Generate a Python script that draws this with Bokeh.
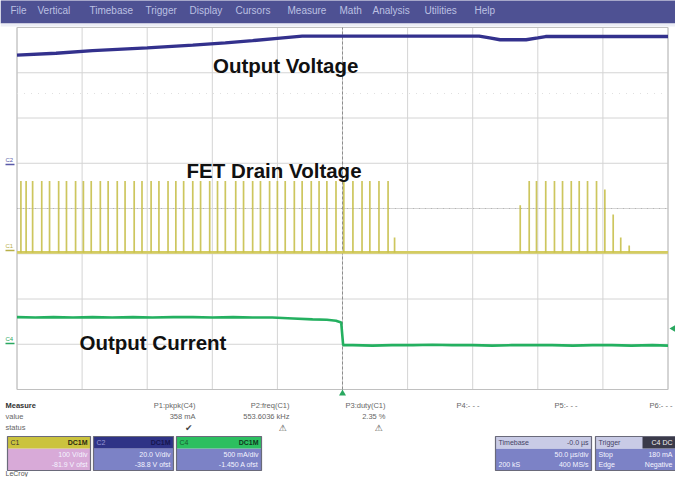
from math import pi
from bokeh.plotting import figure
from bokeh.models import Range1d
from bokeh.core.properties import value
from bokeh.embed import file_html
from bokeh.resources import INLINE

# ---------------- data ----------------
us_per_div = 50
grid_t_us = [-250, -200, -150, -100, -50, 0, 50, 100, 150, 200, 250]
grid_v_div = [-4, -3, -2, -1, 0, 1, 2, 3, 4]

# Output voltage (C2), vertical divisions
vout_t_us = [-250, -220, -192, -150, -115, -90, -69, -50, -31, 0, 50, 105, 113, 121, 141, 150, 156, 200, 250]
vout_div = [3.39, 3.43, 3.49, 3.55, 3.61, 3.66, 3.71, 3.76, 3.81, 3.81, 3.81, 3.81, 3.77, 3.73, 3.73, 3.77, 3.80, 3.80, 3.80]

# FET drain voltage (C1)
fet_base_div = -0.97
fet_pulse_t_us = [-247, -243, -238, -231, -225, -218, -212, -205, -199, -193, -186, -180,
                  -173, -167, -160, -154, -147, -141, -134, -128, -122, -115, -109, -102,
                  -96, -90, -82, -76, -69, -63, -56, -50, -44, -37, -31, -24, -18, -12,
                  -5, 1, 8, 15, 21, 28, 35, 40,
                  136.5, 143.4, 149, 156.1, 162.8, 169, 175.7, 181.8, 188.2, 195.1,
                  201.5, 207.9, 213.7, 220.2]
fet_pulse_top_div = [0.61] * 45 + [-0.64] + \
    [0.07, 0.61, 0.61, 0.61, 0.61, 0.61, 0.61, 0.61, 0.61, 0.61, 0.42, -0.13, -0.64, -0.82]

# Output current (C4)
iout_t_us = [-250, -236, -222, -207, -192, -177, -161, -146, -130, -115, -100, -84, -69,
             -54, -38, -23, -12, -5, -1, 0.5, 8, 23, 38, 54, 69, 84, 100, 115, 130, 146,
             161, 177, 192, 207, 222, 238, 250]
iout_div = [-2.40, -2.41, -2.40, -2.41, -2.40, -2.41, -2.40, -2.41, -2.40, -2.40, -2.41,
            -2.40, -2.41, -2.41, -2.43, -2.45, -2.46, -2.48, -2.52, -3.02, -3.02, -3.03,
            -3.02, -3.02, -3.01, -3.02, -3.02, -3.03, -3.02, -3.02, -3.02, -3.03, -3.02,
            -3.02, -3.03, -3.02, -3.03]

menu_items = ["File", "Vertical", "Timebase", "Trigger", "Display", "Cursors",
              "Measure", "Math", "Analysis", "Utilities", "Help"]

meas_labels = ["P1:pkpk(C4)", "P2:freq(C1)", "P3:duty(C1)", "P4:- - -", "P5:- - -", "P6:- - -"]
meas_values = ["358 mA", "553.6036 kHz", "2.35 %", "", "", ""]
meas_status = ["\u2714", "\u26a0", "\u26a0", "", "", ""]

ch_names = ["C1", "C2", "C4"]
ch_coupling = ["DC1M", "DC1M", "DC1M"]
ch_scale = ["100 V/div", "20.0 V/div", "500 mA/div"]
ch_offset = ["-81.9 V ofst", "-38.8 V ofst", "-1.450 A ofst"]

tb_texts = ["Timebase", "-0.0 \u00b5s", "50.0 \u00b5s/div", "200 kS", "400 MS/s"]
trig_texts = ["Trigger", "C4 DC", "Stop", "180 mA", "Edge", "Negative"]

# ---------------- layout helpers (reference pixel -> scope units) ----------------
def X(px):
    return (px - 350) / 65.1 * us_per_div

def Y(py):
    return 4 - (py - 35) / 45.25

FONT = value("Liberation Sans")

p = figure(width=675, height=477, x_range=Range1d(X(8), X(683)), y_range=Range1d(Y(485), Y(8)),
           x_axis_type=None, y_axis_type=None, toolbar_location=None, output_backend="svg",
           min_border=0, title=None)
p.outline_line_color = None
p.background_fill_color = "white"
p.border_fill_color = "white"
p.grid.visible = False

# menu bar
p.quad(left=[X(8)], right=[X(691)], top=[Y(4)], bottom=[Y(31)], fill_color="#4e5193", line_color=None)
menu_px = [18, 45, 97, 153, 197, 243, 295, 347, 380, 432, 482]
p.text(x=[X(v) for v in menu_px], y=[Y(18)] * len(menu_items), text=menu_items,
       text_font=FONT, text_font_size="10px", text_color="#bcc0e2", text_baseline="middle")
p.quad(left=[X(8)], right=[X(691)], top=[Y(31)], bottom=[Y(34)], fill_color="#eceef6", line_color=None)

# graticule
t0, t1 = grid_t_us[0], grid_t_us[-1]
v0, v1 = grid_v_div[0], grid_v_div[-1]
p.segment(x0=grid_t_us, y0=[v0] * len(grid_t_us), x1=grid_t_us, y1=[v1] * len(grid_t_us),
          line_color="#d4d4d4", line_width=1)
p.segment(x0=[t0] * len(grid_v_div), y0=grid_v_div, x1=[t1] * len(grid_v_div), y1=grid_v_div,
          line_color="#d4d4d4", line_width=1)
p.line([t0, t1, t1, t0, t0], [v0, v0, v1, v1, v0], line_color="#c0c0c0", line_width=1)
p.line([0, 0], [v0, v1], line_color="#8c8c8c", line_width=1, line_dash="3 2")
p.line([t0, t1], [0, 0], line_color="#a0a0a0", line_width=1, line_dash="1 5", line_alpha=0.6)
p.line([t0, t1], [Y(101), Y(101)], line_color="#e0e0e0", line_width=1, line_dash="1 6")

# traces
p.line(vout_t_us, vout_div, line_color="#33318d", line_width=3.4)
p.line([t0, t1], [fet_base_div, fet_base_div], line_color="#d4cc60", line_width=2.6)
p.segment(x0=fet_pulse_t_us, y0=[fet_base_div] * len(fet_pulse_t_us), x1=fet_pulse_t_us,
          y1=fet_pulse_top_div, line_color="#c8c04c", line_width=1.7, line_alpha=0.9)
p.line(iout_t_us, iout_div, line_color="#24b060", line_width=2.6)

# channel ground markers
p.text(x=[X(13)] * 3, y=[Y(170), Y(256), Y(349)], text=["C2", "C1", "C4"],
       text_font=FONT, text_font_size="6px", text_color=["#5a5aa8", "#b8b048", "#2aa860"],
       text_baseline="bottom")
p.segment(x0=[X(13)] * 3, y0=[Y(172), Y(258), Y(351)], x1=[X(22)] * 3, y1=[Y(172), Y(258), Y(351)],
          line_color=["#5a5aa8", "#b8b048", "#2aa860"], line_width=1.5)

# trigger markers
p.scatter(x=[0], y=[Y(401)], marker="triangle", size=7, fill_color="#2aa860", line_color=None)
p.scatter(x=[X(681)], y=[Y(336)], marker="triangle", size=7, angle=pi / 2,
          fill_color="#2aa860", line_color=None)

# annotations
p.text(x=[X(220.5), X(194), X(87)], y=[Y(73), Y(177.5), Y(349.5)],
       text=["Output Voltage", "FET Drain Voltage", "Output Current"],
       text_font=FONT, text_font_style="bold", text_font_size="20.5px", text_color="#111111",
       text_baseline="alphabetic")

# measure panel
row_y = [413, 424, 435]
p.text(x=[X(13)] * 3, y=[Y(v) for v in row_y], text=["Measure", "value", "status"],
       text_font=FONT, text_font_size="7.5px", text_color=["#333333", "#666666", "#666666"],
       text_font_style=["bold", "normal", "normal"], text_baseline="middle")
col_px = [203, 297, 393, 487, 585, 680]
p.text(x=[X(v) for v in col_px], y=[Y(row_y[0])] * 6, text=meas_labels, text_font=FONT,
       text_font_size="7.5px", text_color="#666666", text_align="right", text_baseline="middle")
p.text(x=[X(v) for v in col_px], y=[Y(row_y[1])] * 6, text=meas_values, text_font=FONT,
       text_font_size="7.5px", text_color="#666666", text_align="right", text_baseline="middle")
p.text(x=[X(v - 3) for v in col_px], y=[Y(row_y[2])] * 6, text=meas_status, text_font=value("DejaVu Sans"),
       text_font_size="9px", text_color="#444444", text_align="right", text_baseline="middle")

# channel boxes
bt, bh, bb = 444, 456, 478
box_l = [15, 101, 184]
box_r = [98, 181, 269]
head_col = ["#cbc33e", "#2f3386", "#2cbf60"]
body_col = ["#d8aad8", "#7c82c6", "#7c82c6"]
p.quad(left=[X(v) for v in box_l], right=[X(v) for v in box_r], top=[Y(bh)] * 3, bottom=[Y(bb)] * 3,
       fill_color=body_col, line_color=None)
p.quad(left=[X(v) for v in box_l], right=[X(v) for v in box_r], top=[Y(bt)] * 3, bottom=[Y(bh)] * 3,
       fill_color=head_col, line_color=None)
p.quad(left=[X(v) for v in box_l], right=[X(v) for v in box_r], top=[Y(bt)] * 3, bottom=[Y(bb)] * 3,
       fill_color=None, line_color="#6a6a7a", line_width=1.2)
p.text(x=[X(v + 3) for v in box_l], y=[Y(450)] * 3, text=ch_names, text_font=FONT, text_font_size="7px",
       text_color=["#333333", "#9a9ad8", "#1a5a30"], text_baseline="middle")
p.text(x=[X(v - 3) for v in box_r], y=[Y(450)] * 3, text=ch_coupling, text_font=FONT,
       text_font_size="7px", text_font_style="bold", text_color=["#2a2a10", "#161650", "#103820"],
       text_align="right", text_baseline="middle")
p.text(x=[X(v - 3) for v in box_r], y=[Y(462)] * 3, text=ch_scale, text_font=FONT,
       text_font_size="7px", text_color="#f4f4ff", text_align="right", text_baseline="middle")
p.text(x=[X(v - 3) for v in box_r], y=[Y(472)] * 3, text=ch_offset, text_font=FONT,
       text_font_size="7px", text_color="#f4f4ff", text_align="right", text_baseline="middle")

# timebase / trigger boxes
rb_l = [503, 603]
rb_r = [599, 686]
p.quad(left=[X(v) for v in rb_l], right=[X(v) for v in rb_r], top=[Y(bh)] * 2, bottom=[Y(bb)] * 2,
       fill_color="#7c82c6", line_color=None)
p.quad(left=[X(v) for v in rb_l], right=[X(v) for v in rb_r], top=[Y(bt)] * 2, bottom=[Y(bh)] * 2,
       fill_color="#c9cbe6", line_color=None)
p.quad(left=[X(650)], right=[X(683)], top=[Y(bt)], bottom=[Y(bh)], fill_color="#3a3a4a", line_color=None)
p.quad(left=[X(v) for v in rb_l], right=[X(v) for v in rb_r], top=[Y(bt)] * 2, bottom=[Y(bb)] * 2,
       fill_color=None, line_color="#6a6a7a", line_width=1.2)
p.text(x=[X(506), X(596), X(606), X(680)], y=[Y(450)] * 4,
       text=[tb_texts[0], tb_texts[1], trig_texts[0], trig_texts[1]], text_font=FONT,
       text_font_size="7px", text_color=["#444466", "#444466", "#444466", "#f0f0f0"],
       text_align=["left", "right", "left", "right"], text_baseline="middle")
p.text(x=[X(596), X(506), X(596), X(606), X(680), X(606), X(680)],
       y=[Y(462), Y(472), Y(472), Y(462), Y(462), Y(472), Y(472)],
       text=[tb_texts[2], tb_texts[3], tb_texts[4], trig_texts[2], trig_texts[3], trig_texts[4], trig_texts[5]],
       text_font=FONT, text_font_size="7px", text_color="#f4f4ff",
       text_align=["right", "left", "right", "left", "right", "left", "right"], text_baseline="middle")

p.text(x=[X(13)], y=[Y(484)], text=["LeCroy"], text_font=FONT, text_font_size="7px",
       text_color="#555555", text_baseline="bottom")

open("out.html", "w").write(file_html(p, INLINE))
